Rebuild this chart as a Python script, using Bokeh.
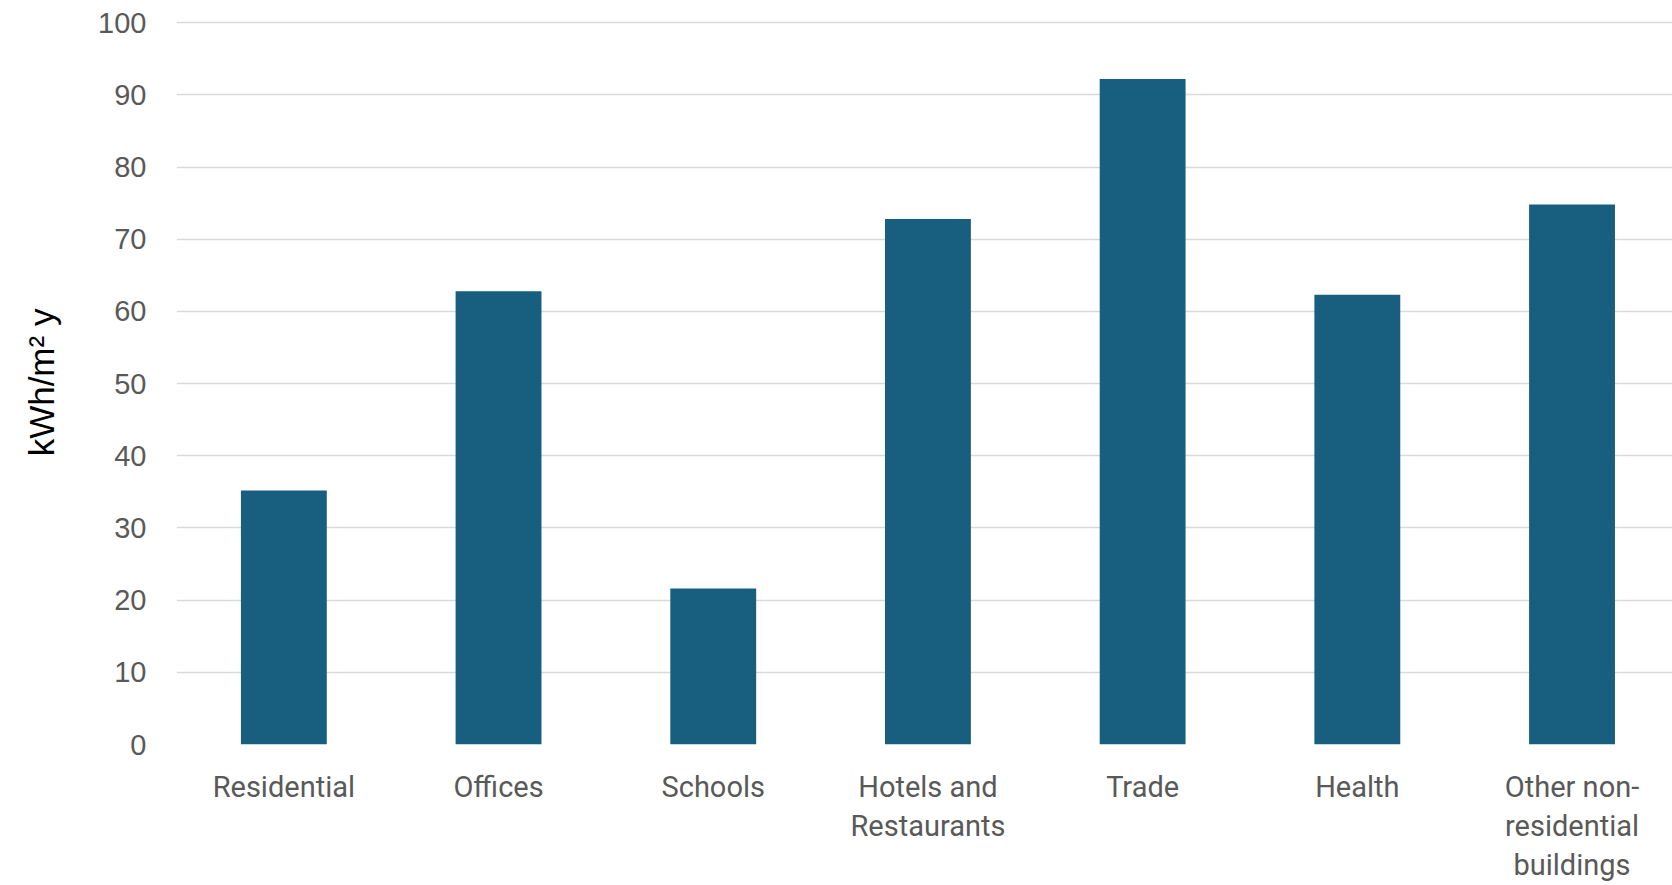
from bokeh.plotting import figure
from bokeh.models import ColumnDataSource, Range1d, FixedTicker, SingleIntervalTicker
from bokeh.embed import file_html
from bokeh.resources import INLINE

categories = ["Residential", "Offices", "Schools", "Hotels and\nRestaurants",
              "Trade", "Health", "Other non-\nresidential\nbuildings"]
values = [35.2, 62.8, 21.6, 72.8, 92.2, 62.3, 74.8]
y_label = "kWh/m\u00b2 y"

pos = list(range(len(categories)))
src = ColumnDataSource(dict(x=pos, val=values))

p = figure(width=1672, height=885, output_backend="svg", toolbar_location=None,
           x_range=Range1d(-0.5, 6.468),
           y_range=Range1d(0, 100.3),
           min_border_left=176, min_border_right=0, min_border_top=20,
           min_border_bottom=139)
p.outline_line_color = None
p.background_fill_color = "white"
p.border_fill_color = "white"

p.vbar(x="x", top="val", width=0.4, source=src, fill_color="#175E7F",
       line_color=None)

p.yaxis.ticker = SingleIntervalTicker(interval=10)
p.ygrid.grid_line_color = "#D9D9D9"
p.ygrid.grid_line_width = 1.6
p.xgrid.grid_line_color = None

p.yaxis.axis_line_color = None
p.yaxis.major_tick_line_color = None
p.yaxis.minor_tick_line_color = None
p.yaxis.major_label_text_font = "Liberation Sans"
p.yaxis.major_label_text_font_size = "29px"
p.yaxis.major_label_text_color = "#595959"
p.yaxis.major_label_standoff = 24
p.yaxis.axis_label = y_label
p.yaxis.axis_label_text_font = "Liberation Sans"
p.yaxis.axis_label_text_font_size = "35px"
p.yaxis.axis_label_text_font_style = "normal"
p.yaxis.axis_label_text_color = "#000000"
p.yaxis.axis_label_standoff = 34

p.xaxis.ticker = FixedTicker(ticks=pos)
p.xaxis.major_label_overrides = {i: c for i, c in zip(pos, categories)}
p.xaxis.axis_line_color = None
p.xaxis.major_tick_line_color = None
p.xaxis.minor_tick_line_color = None
p.xaxis.major_label_text_font = "Roboto"
p.xaxis.major_label_text_font_size = "29px"
p.xaxis.major_label_text_color = "#595959"
p.xaxis.major_label_standoff = 19
p.xaxis.major_label_text_line_height = 1.16

open("out.html", "w").write(file_html(p, INLINE))
